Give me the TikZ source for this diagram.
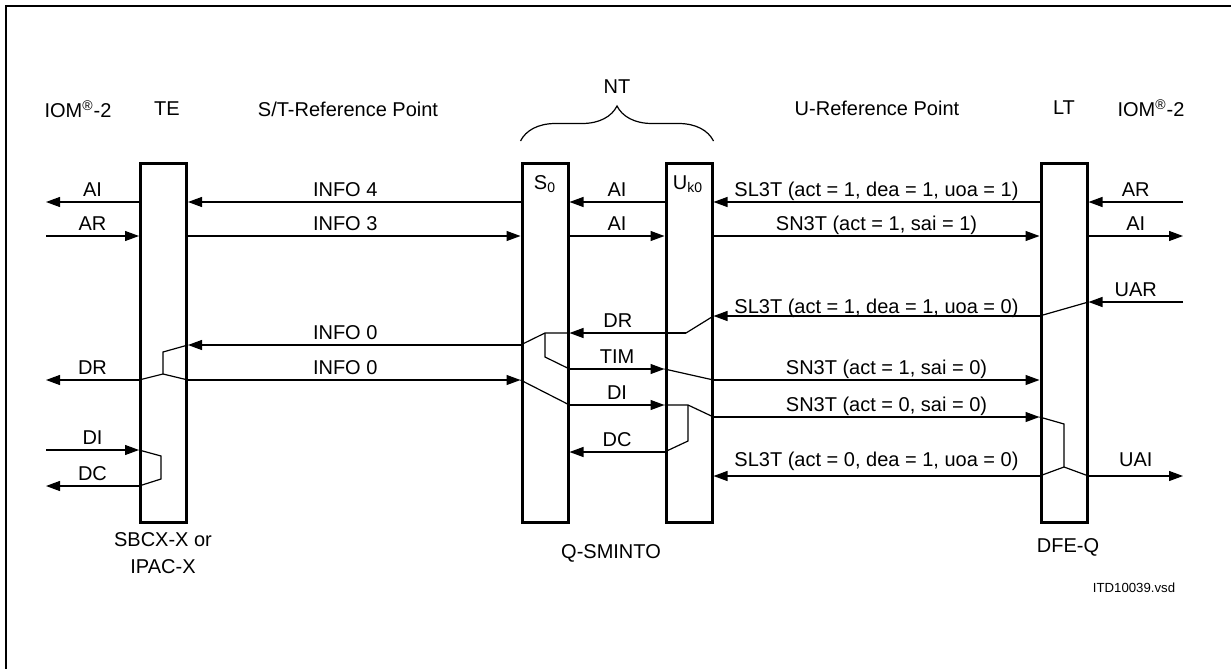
\documentclass[tikz,border=0pt]{standalone}
\usepackage{fontspec}
\setmainfont{Liberation Sans}
\usetikzlibrary{arrows.meta,decorations.pathreplacing,positioning}

\tikzset{
  chip/.style={draw, line width=1.5pt, minimum width=23pt, minimum height=179.5pt, inner sep=0pt},
  sig/.style={line width=0.6pt},
  lbl/.style={font=\fontsize{10}{12}\selectfont, inner sep=0pt, text depth=0pt, above=2.5pt},
  hdr/.style={font=\fontsize{10}{12}\selectfont, inner sep=0pt},
}

\begin{document}
\begin{tikzpicture}[x=0.5pt, y=-0.5pt, >={Triangle[length=7pt,width=5pt]}]
        \useasboundingbox (0,0) rectangle (1231,669);
        % frame (only top and left edges show)
        \draw[line width=1pt] (5.5,669) -- (5.5,6) -- (1231,6);

        % headings
        \node[hdr] (iomleft) at (78,109) {IOM\textsuperscript{®}-2};
        \node[hdr] (tehead) at (167,109) {TE};
        \node[hdr] (strefpt) at (348,109) {S/T-Reference Point};
        \node[hdr] (nthead) at (617,87) {NT};
        \node[hdr] (urefpt) at (877,108) {U-Reference Point};
        \node[hdr] (lthead) at (1064,108) {LT};
        \node[hdr] (iomright) at (1151,108) {IOM\textsuperscript{®}-2};

        % the four chips
        \node[chip] (te) at (163.5,343) {};
        \node[chip] (s0) at (545,343) {};
        \node[chip] (uk) at (689,343) {};
        \node[chip] (lt) at (1064,343) {};
        \node[hdr] (s0name) at (545,184) {S\textsubscript{0}};
        \node[hdr] (ukname) at (688,184) {U\textsubscript{k0}};

        % NT brace
        \draw[line width=0.6pt, decorate, decoration={brace, amplitude=17.5pt}]
            ([yshift=10.5pt]s0.north west) -- ([yshift=10.5pt]uk.north east);

        % chip names
        \node[hdr, align=center] (tename) at (163,553) {SBCX-X or\\[1.5pt]IPAC-X};
        \node[hdr] (ntname) at (611,553) {Q-SMINTO};
        \node[hdr] (ltname) at (1068,547) {DFE-Q};
        \node[hdr, font=\fontsize{6.6}{8}\selectfont] (fileid) at (1134,588) {ITD10039.vsd};

        % rows and outer ends
        \coordinate (lft) at (46,0);
        \coordinate (rgt) at (1183,0);
        \coordinate (ra) at (0,202);
        \coordinate (rb) at (0,236);
        \coordinate (rc) at (0,302);
        \coordinate (rd) at (0,316);
        \coordinate (re) at (0,333);
        \coordinate (rf) at (0,345);
        \coordinate (rg) at (0,369);
        \coordinate (rh) at (0,380);
        \coordinate (ri) at (0,405);
        \coordinate (rj) at (0,417);
        \coordinate (rdi) at (0,450);
        \coordinate (rk) at (0,452);
        \coordinate (rl) at (0,476);
        \coordinate (rm) at (0,486);

        % kinks inside the chips
        \coordinate (tek1) at (163,352);
        \coordinate (tek2) at (163,374);
        \coordinate (tek3) at (161,456);
        \coordinate (tek4) at (161,479);
        \coordinate (s0k1) at (545,333);
        \coordinate (s0k2) at (545,357);
        \coordinate (ukk1) at (686,333);
        \coordinate (ukk2) at (688,405);
        \coordinate (ukk3) at (688,441);
        \coordinate (ltk1) at (1064,424);
        \coordinate (ltk2) at (1064,467);

        % activation
        \draw[sig,->] (te.west |- ra) -- node[lbl] (l-ai1) {AI} (lft |- ra);
        \draw[sig,->] (lft |- rb) -- node[lbl] (l-ar1) {AR} (te.west |- rb);
        \draw[sig,->] (s0.west |- ra) -- node[lbl, xshift=-4.5pt] (l-info4) {INFO 4} (te.east |- ra);
        \draw[sig,->] (te.east |- rb) -- node[lbl, xshift=-4.5pt] (l-info3) {INFO 3} (s0.west |- rb);
        \draw[sig,->] (uk.west |- ra) -- node[lbl] (l-ai2) {AI} (s0.east |- ra);
        \draw[sig,->] (s0.east |- rb) -- node[lbl] (l-ai3) {AI} (uk.west |- rb);
        \draw[sig,->] (lt.west |- ra) -- node[lbl] (l-sl1) {SL3T (act = 1, dea = 1, uoa = 1)} (uk.east |- ra);
        \draw[sig,->] (uk.east |- rb) -- node[lbl] (l-sn1) {SN3T (act = 1, sai = 1)} (lt.west |- rb);
        \draw[sig,->] (rgt |- ra) -- node[lbl] (l-ar2) {AR} (lt.east |- ra);
        \draw[sig,->] (lt.east |- rb) -- node[lbl] (l-ai4) {AI} (rgt |- rb);

        % deactivation from LT
        \draw[sig,->] (rgt |- rc) -- node[lbl] (l-uar) {UAR} (lt.east |- rc);
        \draw[sig] (lt.east |- rc) -- (lt.west |- rd);
        \draw[sig,->] (lt.west |- rd) -- node[lbl, yshift=-1.5pt] (l-sl2) {SL3T (act = 1, dea = 1, uoa = 0)} (uk.east |- rd);
        \draw[sig] (uk.east |- rd) -- (ukk1);
        \draw[sig,->] (ukk1) -- node[lbl, xshift=-5pt] (l-dr1) {DR} (s0.east |- re);
        \draw[sig] (s0.east |- re) -- (s0k1) -- (s0.west |- rf);
        \draw[sig] (s0k1) -- (s0k2) -- (s0.east |- rg);
        \draw[sig,->] (s0.west |- rf) -- node[lbl, xshift=-4.5pt] (l-info0a) {INFO 0} (te.east |- rf);
        \draw[sig] (te.east |- rf) -- (tek1) -- (tek2) -- (te.west |- rh);
        \draw[sig] (tek2) -- (te.east |- rh);
        \draw[sig,->] (te.west |- rh) -- node[lbl] (l-dr2) {DR} (lft |- rh);
        \draw[sig,->] (te.east |- rh) -- node[lbl, xshift=-4.5pt] (l-info0b) {INFO 0} (s0.west |- rh);

        % TIM and DI through the NT
        \draw[sig,->] (s0.east |- rg) -- node[lbl] (l-tim) {TIM} (uk.west |- rg);
        \draw[sig] (uk.west |- rg) -- (uk.east |- rh);
        \draw[sig,->] (uk.east |- rh) -- node[lbl, xshift=5pt] (l-sn2) {SN3T (act = 1, sai = 0)} (lt.west |- rh);
        \draw[sig] (s0.west |- rh) -- (s0.east |- ri);
        \draw[sig,->] (s0.east |- ri) -- node[lbl] (l-di1) {DI} (uk.west |- ri);
        \draw[sig] (uk.west |- ri) -- (ukk2) -- (uk.east |- rj);
        \draw[sig,->] (uk.east |- rj) -- node[lbl, xshift=5pt] (l-sn3) {SN3T (act = 0, sai = 0)} (lt.west |- rj);
        \draw[sig] (ukk2) -- (ukk3) -- (uk.west |- rk);
        \draw[sig,->] (uk.west |- rk) -- node[lbl] (l-dc1) {DC} (s0.east |- rk);

        % LT answers
        \draw[sig] (lt.west |- rj) -- (ltk1) -- (ltk2) -- (lt.west |- rl);
        \draw[sig] (ltk2) -- (lt.east |- rl);
        \draw[sig,->] (lt.west |- rl) -- node[lbl, yshift=2pt] (l-sl3) {SL3T (act = 0, dea = 1, uoa = 0)} (uk.east |- rl);
        \draw[sig,->] (lt.east |- rl) -- node[lbl, yshift=2pt] (l-uai) {UAI} (rgt |- rl);

        % DI / DC at the TE
        \draw[sig,->] (lft |- rdi) -- node[lbl] (l-di2) {DI} (te.west |- rdi);
        \draw[sig] (te.west |- rdi) -- (tek3) -- (tek4) -- (te.west |- rm);
        \draw[sig,->] (te.west |- rm) -- node[lbl] (l-dc2) {DC} (lft |- rm);
\end{tikzpicture}
\end{document}
